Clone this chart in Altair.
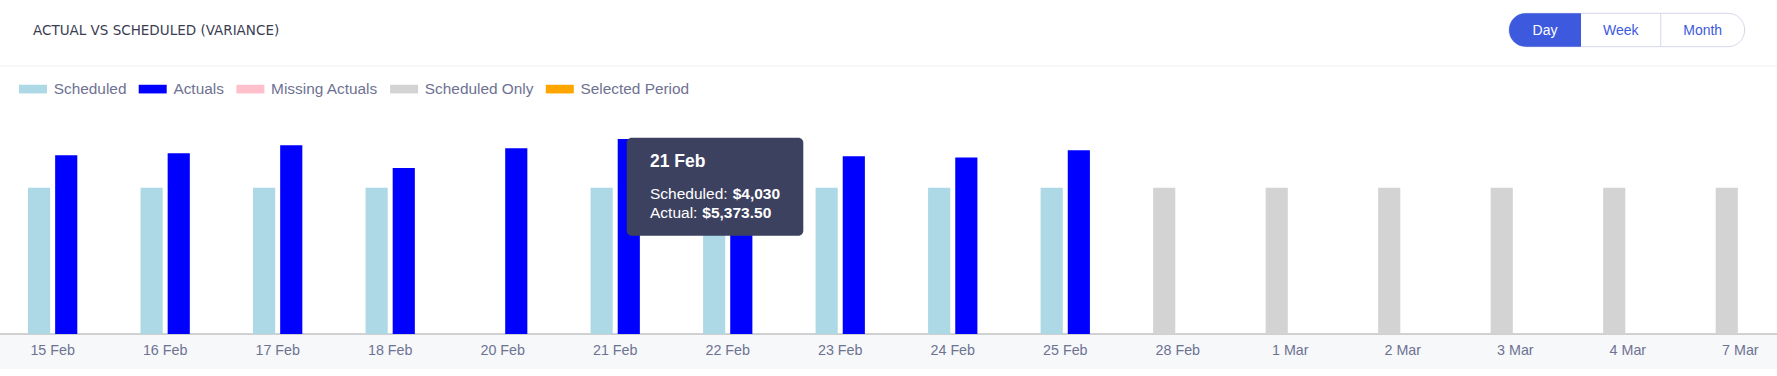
import altair as alt
import pandas as pd

# ---- data ----
dates = ["15 Feb", "16 Feb", "17 Feb", "18 Feb", "20 Feb", "21 Feb", "22 Feb", "23 Feb",
         "24 Feb", "25 Feb", "28 Feb", "1 Mar", "2 Mar", "3 Mar", "4 Mar", "7 Mar"]
scheduled = [4030, 4030, 4030, 4030, None, 4030, 4030, 4030, 4030, 4030,
             None, None, None, None, None, None]
actuals = [4925, 4980, 5200, 4575, 5115, 5373.50, 4980, 4895, 4860, 5060,
           None, None, None, None, None, None]
scheduled_only = [None, None, None, None, None, None, None, None, None, None,
                  4030, 4030, 4030, 4030, 4030, 4030]

legend_names = ["Scheduled", "Actuals", "Missing Actuals", "Scheduled Only", "Selected Period"]
legend_colors = ["#add8e6", "#0000ff", "#ffc0cb", "#d3d3d3", "#ffa500"]

buttons = ["Day", "Week", "Month"]
title_text = "ACTUAL VS SCHEDULED (VARIANCE)"
tooltip_date = "21 Feb"

# ---- long table for bars ----
rows = []
for d, s, a, so in zip(dates, scheduled, actuals, scheduled_only):
    if s is not None:
        rows.append({"date": d, "slot": "S", "series": "Scheduled", "value": s})
    if a is not None:
        rows.append({"date": d, "slot": "A", "series": "Actuals", "value": a})
    if so is not None:
        rows.append({"date": d, "slot": "S", "series": "Scheduled Only", "value": so})
bars_df = pd.DataFrame(rows)
dates_df = pd.DataFrame({"date": dates})

FONT = "Liberation Sans"
LABEL_COLOR = "#6e7292"

x_enc = alt.X("date:N", sort=dates,
              scale=alt.Scale(domain=dates, range=[-3.6, 1796.6], paddingInner=0, paddingOuter=0),
              axis=None)
y_scale = alt.Scale(domain=[0, 9201], range=[334, 0])

legend_path = "M-1,-0.31L1,-0.31L1,0.31L-1,0.31Z"

bars = alt.Chart(bars_df).mark_bar().encode(
    x=x_enc,
    xOffset=alt.XOffset("slot:N", scale=alt.Scale(domain=["S", "A"], range=[31.6, 80.9],
                                                  paddingInner=0.184, paddingOuter=0)),
    y=alt.Y("value:Q", scale=y_scale, axis=None),
    color=alt.Color("series:N",
                    scale=alt.Scale(domain=legend_names, range=legend_colors),
                    legend=alt.Legend(orient="none", legendX=19, legendY=74.8,
                                      direction="horizontal", title=None,
                                      symbolType=legend_path, symbolSize=784,
                                      symbolStrokeWidth=0, symbolOpacity=1,
                                      labelFontSize=15.4, labelColor=LABEL_COLOR,
                                      labelFont=FONT, labelOffset=6.7,
                                      columnPadding=11.7)),
)

# decorations
sep = alt.Chart(dates_df.head(1)).mark_rule(color="#eef0f3", strokeWidth=1).encode(
    x=alt.value(0), x2=alt.value(1777), y=alt.value(66))
band = alt.Chart(dates_df.head(1)).mark_rect(color="#f6f8fa").encode(
    x=alt.value(0), x2=alt.value(1777), y=alt.value(334), y2=alt.value(369))
axis_line = alt.Chart(dates_df.head(1)).mark_rule(color="#a5a5a5", strokeWidth=1.2).encode(
    x=alt.value(0), x2=alt.value(1777), y=alt.value(334))

tick_labels = alt.Chart(dates_df).mark_text(
    font=FONT, fontSize=14.3, color=LABEL_COLOR, baseline="alphabetic", align="center"
).encode(x=x_enc, y=alt.value(355), text="date:N")

title = alt.Chart(dates_df.head(1)).mark_text(
    text=title_text, font="DejaVu Sans", fontSize=13.5, color="#3a3d52", align="left",
    baseline="alphabetic"
).encode(x=alt.value(33), y=alt.value(34.5))

# tooltip
idx = dates.index(tooltip_date)
tip_box = alt.Chart(dates_df.head(1)).mark_rect(color="#3d4160", cornerRadius=5).encode(
    x=alt.value(626.7), x2=alt.value(803.3), y=alt.value(137.7), y2=alt.value(235.7))
tip_head = alt.Chart(dates_df.head(1)).mark_text(
    text=tooltip_date, font=FONT, fontSize=17.5, fontWeight="bold", color="white",
    align="left", baseline="alphabetic").encode(x=alt.value(650), y=alt.value(166.7))
tip_l1a = alt.Chart(dates_df.head(1)).mark_text(
    text="Scheduled:", font=FONT, fontSize=15.5, color="white",
    align="left", baseline="alphabetic").encode(x=alt.value(650), y=alt.value(199))
tip_l1b = alt.Chart(dates_df.head(1)).mark_text(
    text="${:,.0f}".format(scheduled[idx]), font=FONT, fontSize=15.5, fontWeight="bold",
    color="white", align="left", baseline="alphabetic").encode(x=alt.value(732.7), y=alt.value(199))
tip_l2a = alt.Chart(dates_df.head(1)).mark_text(
    text="Actual:", font=FONT, fontSize=15.5, color="white",
    align="left", baseline="alphabetic").encode(x=alt.value(650), y=alt.value(218.3))
tip_l2b = alt.Chart(dates_df.head(1)).mark_text(
    text="${:,.2f}".format(actuals[idx]), font=FONT, fontSize=15.5, fontWeight="bold",
    color="white", align="left", baseline="alphabetic").encode(x=alt.value(702.3), y=alt.value(218.3))

# segmented buttons
BTN_BLUE = "#3d5ade"
BTN_BORDER = "#d6d8e8"
btn_outline = alt.Chart(dates_df.head(1)).mark_rect(
    fill="white", stroke=BTN_BORDER, strokeWidth=1, cornerRadius=16.7).encode(
    x=alt.value(1509), x2=alt.value(1744.7), y=alt.value(13.3), y2=alt.value(46.7))
btn_day = alt.Chart(dates_df.head(1)).mark_rect(
    fill=BTN_BLUE, cornerRadiusTopLeft=16.7, cornerRadiusBottomLeft=16.7).encode(
    x=alt.value(1509), x2=alt.value(1581), y=alt.value(13.3), y2=alt.value(46.7))
btn_sep = alt.Chart(dates_df.head(1)).mark_rule(color=BTN_BORDER, strokeWidth=1).encode(
    x=alt.value(1660.7), y=alt.value(13.3), y2=alt.value(46.7))
btn_t1 = alt.Chart(dates_df.head(1)).mark_text(
    text=buttons[0], font=FONT, fontSize=14, color="white", align="center", baseline="middle"
).encode(x=alt.value(1545), y=alt.value(30.5))
btn_t2 = alt.Chart(dates_df.head(1)).mark_text(
    text=buttons[1], font=FONT, fontSize=14, color=BTN_BLUE, align="center", baseline="middle"
).encode(x=alt.value(1620.8), y=alt.value(30.5))
btn_t3 = alt.Chart(dates_df.head(1)).mark_text(
    text=buttons[2], font=FONT, fontSize=14, color=BTN_BLUE, align="center", baseline="middle"
).encode(x=alt.value(1702.7), y=alt.value(30.5))

chart = alt.layer(
    sep, band, axis_line, bars, tick_labels, title,
    tip_box, tip_head, tip_l1a, tip_l1b, tip_l2a, tip_l2b,
    btn_outline, btn_day, btn_sep, btn_t1, btn_t2, btn_t3,
).properties(
    width=1777, height=376, autosize=alt.AutoSizeParams(type="none"), padding=0,
    background="white"
).configure_view(stroke=None)

chart.save("out.html", embed_options={"renderer": "svg", "actions": False})
